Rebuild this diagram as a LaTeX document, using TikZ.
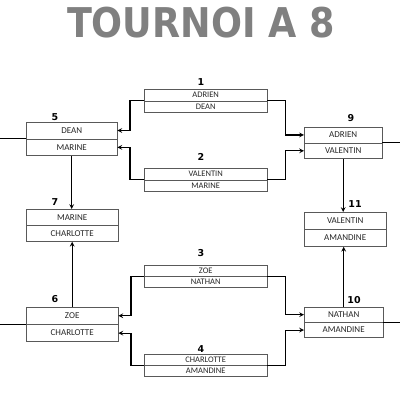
\documentclass[tikz,border=0pt]{standalone}
\usepackage{fontspec}
\usepackage{xcolor}
\usepackage{tikz}
\usetikzlibrary{positioning, arrows}
\newfontfamily\cellfont{Carlito}
\newfontfamily\numfont{DejaVu Sans}
\definecolor{titlegray}{HTML}{808080}
\tikzstyle{match} = [font=\cellfont\fontsize{8.5}{9}\selectfont, rectangle, minimum height=11.5, inner sep=0pt, anchor=north west, draw=black!65, text=black!85]
\tikzstyle{winner} = [font=\cellfont\fontsize{9}{9}\selectfont, rectangle, minimum height=16, inner sep=0pt, anchor=north west, draw=black!65, text=black!85]
\tikzstyle{num} = [font=\numfont\bfseries\fontsize{9.5}{10}\selectfont, inner sep=0pt]
\tikzstyle{arrow} = [line width=1.1pt,->,>=stealth]
\tikzstyle{line} = [line width=1.1pt]

\begin{document}
\begin{tikzpicture}[x=1pt, y=-1pt]
  \useasboundingbox (0,0) rectangle (400,400);
  \coordinate (left edge) at (0,0);
  \coordinate (right edge) at (400,0);
  \node (title) at (201,23) {\scalebox{0.89}[1]{\numfont\bfseries\fontsize{41}{41}\selectfont\color{titlegray}TOURNOI A 8}};
  % first round
  \node (m1a) [match, minimum width=123] at (144,89) {ADRIEN};
  \node (m1b) [match, minimum width=123, below=0pt of m1a] {DEAN};
  \node (m2a) [match, minimum width=123] at (144,168) {VALENTIN};
  \node (m2b) [match, minimum width=123, below=0pt of m2a] {MARINE};
  \node (m3a) [match, minimum width=123, minimum height=11] at (144,265) {ZOE};
  \node (m3b) [match, minimum width=123, minimum height=11, below=0pt of m3a] {NATHAN};
  \node (m4a) [match, minimum width=123, minimum height=11] at (144,354) {CHARLOTTE};
  \node (m4b) [match, minimum width=123, minimum height=11, below=0pt of m4a] {AMANDINE};
  % left side
  \node (b5a) [winner, minimum width=91, minimum height=16.5] at (26,122) {DEAN};
  \node (b5b) [winner, minimum width=91, minimum height=16.5, below=0pt of b5a] {MARINE};
  \node (b7a) [winner, minimum width=92] at (26,209) {MARINE};
  \node (b7b) [winner, minimum width=92, below=0pt of b7a] {CHARLOTTE};
  \node (b6a) [winner, minimum width=92, minimum height=17] at (26,307) {ZOE};
  \node (b6b) [winner, minimum width=92, minimum height=17, below=0pt of b6a] {CHARLOTTE};
  % right side
  \node (b9a) [winner, minimum width=78, minimum height=15.5] at (304,127) {ADRIEN};
  \node (b9b) [winner, minimum width=78, minimum height=15.5, below=0pt of b9a] {VALENTIN};
  \node (b11a) [winner, minimum width=82, minimum height=17] at (304,212) {VALENTIN};
  \node (b11b) [winner, minimum width=82, minimum height=17, below=0pt of b11a] {AMANDINE};
  \node (b10a) [winner, minimum width=79, minimum height=15] at (304,307) {NATHAN};
  \node (b10b) [winner, minimum width=79, minimum height=15, below=0pt of b10a] {AMANDINE};
  % match numbers
  \node (n1) [num] at (201,82.5) {1};
  \node (n2) [num] at (201,157) {2};
  \node (n3) [num] at (201,253) {3};
  \node (n4) [num] at (201,349) {4};
  \node (n5) [num] at (55,117) {5};
  \node (n7) [num] at (55,202) {7};
  \node (n6) [num] at (55,299) {6};
  \node (n9) [num] at (351,118) {9};
  \node (n11) [num] at (355,204) {11};
  \node (n10) [num] at (354,300) {10};
  \draw[arrow](m1a.south west) -- ++(-14,0) |- (b5a.east);
  \draw[arrow](m2a.south west) -- ++(-14,0) |- (b5b.east);
  \draw[arrow](m1a.south east) -- ++(18,0) |- (b9a.west);
  \draw[arrow](m2a.south east) -- ++(18,0) |- (b9b.west);
  \draw[arrow](m3a.south west) -- ++(-13,0) |- (b6a.east);
  \draw[arrow](m4a.south west) -- ++(-13,0) |- (b6b.east);
  \draw[arrow](m3a.south east) -- ++(18,0) |- (b10a.west);
  \draw[arrow](m4a.south east) -- ++(18,0) |- (b10b.west);
  \draw[arrow](b5b.south) -- (b5b.south |- b7a.north);
  \draw[arrow](b6a.north) -- (b6a.north |- b7b.south);
  \draw[arrow](b9b.south) -- (b9b.south |- b11a.north);
  \draw[arrow](b10a.north) -- (b10a.north |- b11b.south);
  \draw[line](b5a.south west) -- (b5a.south west -| left edge);
  \draw[line](b6a.south west) -- (b6a.south west -| left edge);
  \draw[line](b9a.south east) -- (b9a.south east -| right edge);
  \draw[line](b10a.south east) -- (b10a.south east -| right edge);
\end{tikzpicture}
\end{document}
